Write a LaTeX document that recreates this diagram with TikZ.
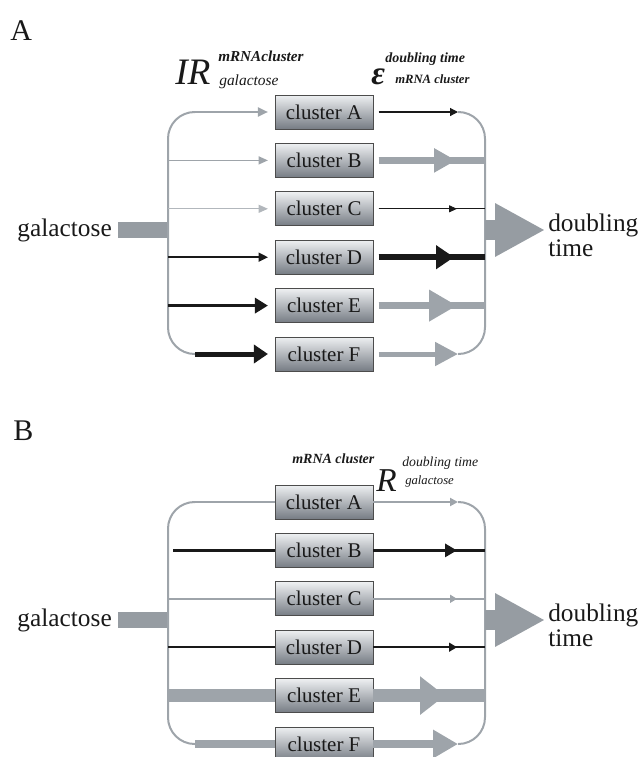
\documentclass[tikz,border=0pt]{standalone}
\usepackage{fontspec}
\setmainfont{Liberation Serif}
\usetikzlibrary{arrows.meta}
\definecolor{lgray}{RGB}{158,164,170}
\definecolor{llgray}{RGB}{178,183,188}
\definecolor{bgray}{RGB}{150,156,162}
\definecolor{ink}{RGB}{25,25,25}
\definecolor{boxtop}{RGB}{238,240,242}
\definecolor{boxbot}{RGB}{118,124,132}
\begin{document}
\begin{tikzpicture}[x=0.75pt,y=-0.75pt,
  clusterbox/.style={draw=black!70, line width=0.6pt, top color=boxtop, bottom color=boxbot,
    minimum width=73.5pt, minimum height=25.5pt, inner sep=0pt,
    font=\fontsize{15.7}{18}\selectfont, text=ink},
  bracket/.style={draw=lgray, line width=1.5pt, rounded corners=20pt},
  lbl/.style={anchor=base west, inner sep=0pt, text=ink},
  bigtext/.style={font=\fontsize{19}{18.75}\selectfont, text=ink, inner sep=0pt},
  gline/.style={draw=lgray, line cap=butt},
  kline/.style={draw=ink, line cap=butt},
  inl/.style={shorten >=5pt},
  outl/.style={shorten <=4pt},
]
\useasboundingbox (0,0) rectangle (640,757);

% ================= Panel A =================
\foreach \i/\y/\l in {1/112/A,2/160.4/B,3/208.8/C,4/257.2/D,5/305.6/E,6/354/F}{
  \node[clusterbox] (a\i) at (324,\y) {cluster \l};
  \coordinate (aL\i) at (168,\y);
  \coordinate (aR\i) at (485,\y);
}
\coordinate (aLT) at (195,112);
\coordinate (aLB) at (195,354);
\coordinate (aRT) at (458,112);
\coordinate (aRB) at (458,354);
\coordinate (aT2) at (456,160.4);
\coordinate (aT3) at (457,208.8);
\coordinate (aT4) at (454,257.2);
\coordinate (aT5) at (457,305.6);

\node[lbl, font=\fontsize{22.5}{22.5}\selectfont] (labA) at (10,40) {A};

% labels
\node[lbl, font=\fontsize{28}{28}\selectfont\itshape] (irA) at (175,84) {IR};
\node[lbl, font=\fontsize{11.4}{12}\selectfont\itshape\bfseries] (irAsup) at (218,61) {mRNAcluster};
\node[lbl, font=\fontsize{11.6}{12}\selectfont\itshape] (irAsub) at (219,85) {galactose};
\node[lbl, font=\fontsize{25}{25}\selectfont\itshape\bfseries] (epsA) at (371,84) {ε};
\node[lbl, font=\fontsize{10.5}{12}\selectfont\itshape\bfseries] (epsAsup) at (385,62) {doubling time};
\node[lbl, font=\fontsize{9.5}{12}\selectfont\itshape\bfseries] (epsAsub) at (395,83) {mRNA cluster};

% galactose input
\node[bigtext, anchor=base east] (galA) at (112,236) {galactose};
\coordinate (gA) at (118,230);
\coordinate (hubA) at (168,230);
\draw[draw=bgray, line width=12pt] (gA) -- (hubA);

% brackets
\draw[bracket] (aLT) -- (aL1) -- (aL6) -- (aLB);
\draw[bracket] (aRT) -- (aR1) -- (aR6) -- (aRB);

% left arrows
\draw[gline, line width=1.5pt, inl, -{Triangle[length=7.5pt,width=6.75pt]}] (aLT) -- (a1);
\draw[gline, line width=1.1pt, inl, -{Triangle[length=7pt,width=6pt]}] (aL2) -- (a2);
\draw[gline, draw=llgray, line width=0.9pt, inl, -{Triangle[length=7pt,width=6pt]}] (aL3) -- (a3);
\draw[kline, line width=1.1pt, inl, -{Triangle[length=7pt,width=6.75pt]}] (aL4) -- (a4);
\draw[kline, line width=2.6pt, inl, -{Triangle[length=9.75pt,width=11.25pt]}] (aL5) -- (a5);
\draw[kline, line width=3.75pt, inl, -{Triangle[length=10.5pt,width=13.5pt]}] (aLB) -- (a6);

% right arrows
\draw[kline, line width=0.9pt, outl, -{Triangle[length=6pt,width=6pt]}] (a1) -- (aRT);
\draw[gline, line width=5.25pt, outl] (a2) -- (aR2);
\draw[gline, line width=5.25pt, outl, -{Triangle[length=16.5pt,width=17.25pt]}] (a2) -- (aT2);
\draw[kline, line width=0.75pt, outl] (a3) -- (aR3);
\draw[kline, line width=0.75pt, outl, -{Triangle[length=6pt,width=5.25pt]}] (a3) -- (aT3);
\draw[kline, line width=4.5pt, outl] (a4) -- (aR4);
\draw[kline, line width=4.5pt, outl, -{Triangle[length=13.5pt,width=17.25pt]}] (a4) -- (aT4);
\draw[gline, line width=5.6pt, outl] (a5) -- (aR5);
\draw[gline, line width=5.6pt, outl, -{Triangle[length=21pt,width=22.5pt]}] (a5) -- (aT5);
\draw[gline, line width=3.75pt, outl, -{Triangle[length=17.25pt,width=17.25pt]}] (a6) -- (aRB);

% output
\coordinate (outA) at (485,230);
\coordinate (tipA) at (545,230);
\draw[draw=bgray, line width=15pt, -{Triangle[length=37.5pt,width=37.5pt]}] (outA) -- (tipA);
\node[bigtext, anchor=west, align=left] (dtA) at (548,235) {doubling\\time};

% ================= Panel B =================
\foreach \i/\y/\l in {1/502/A,2/550.4/B,3/598.8/C,4/647.2/D,5/695.6/E,6/744/F}{
  \node[clusterbox] (b\i) at (324,\y) {cluster \l};
  \coordinate (bL\i) at (168,\y);
  \coordinate (bR\i) at (485,\y);
}
\coordinate (bLT) at (195,502);
\coordinate (bLB) at (195,744);
\coordinate (bRT) at (458,502);
\coordinate (bRB) at (458,744);
\coordinate (bS2) at (173,550.4);
\coordinate (bT2) at (457,550.4);
\coordinate (bT3) at (457,598.8);
\coordinate (bT4) at (457,647.2);
\coordinate (bT5) at (445,695.6);

\node[lbl, font=\fontsize{22.5}{22.5}\selectfont] (labB) at (13,440) {B};

\node[lbl, font=\fontsize{10.5}{12}\selectfont\itshape\bfseries] (rBpre) at (292,463) {mRNA cluster};
\node[lbl, font=\fontsize{25}{25}\selectfont\itshape] (rB) at (376,491) {R};
\node[lbl, font=\fontsize{10.3}{12}\selectfont\itshape] (rBsup) at (402,466) {doubling time};
\node[lbl, font=\fontsize{9.5}{12}\selectfont\itshape] (rBsub) at (405,484) {galactose};

\node[bigtext, anchor=base east] (galB) at (112,626) {galactose};
\coordinate (gB) at (118,620);
\coordinate (hubB) at (168,620);
\draw[draw=bgray, line width=12pt] (gB) -- (hubB);

\draw[bracket] (bLT) -- (bL1) -- (bL6) -- (bLB);
\draw[bracket] (bRT) -- (bR1) -- (bR6) -- (bRB);

% left lines
\draw[gline, line width=1.5pt] (bLT) -- (b1);
\draw[kline, line width=2.6pt] (bS2) -- (b2);
\draw[gline, line width=1.5pt] (bL3) -- (b3);
\draw[kline, line width=1.1pt] (bL4) -- (b4);
\draw[gline, line width=9.75pt] (bL5) -- (b5);
\draw[gline, line width=6pt] (bLB) -- (b6);

% right arrows
\draw[gline, line width=1.5pt, -{Triangle[length=6pt,width=6pt]}] (b1) -- (bRT);
\draw[kline, line width=2.25pt] (b2) -- (bR2);
\draw[kline, line width=2.25pt, -{Triangle[length=9pt,width=9.75pt]}] (b2) -- (bT2);
\draw[gline, line width=1.5pt] (b3) -- (bR3);
\draw[gline, line width=1.5pt, -{Triangle[length=5.25pt,width=6pt]}] (b3) -- (bT3);
\draw[kline, line width=1.1pt] (b4) -- (bR4);
\draw[kline, line width=1.1pt, -{Triangle[length=6pt,width=6.75pt]}] (b4) -- (bT4);
\draw[gline, line width=9.75pt] (b5) -- (bR5);
\draw[gline, line width=9.75pt, -{Triangle[length=18.75pt,width=27.75pt]}] (b5) -- (bT5);
\draw[gline, line width=6pt, -{Triangle[length=18.75pt,width=20.25pt]}] (b6) -- (bRB);

\coordinate (outB) at (485,620);
\coordinate (tipB) at (545,620);
\draw[draw=bgray, line width=15pt, -{Triangle[length=37.5pt,width=37.5pt]}] (outB) -- (tipB);
\node[bigtext, anchor=west, align=left] (dtB) at (548,625) {doubling\\time};
\end{tikzpicture}
\end{document}
